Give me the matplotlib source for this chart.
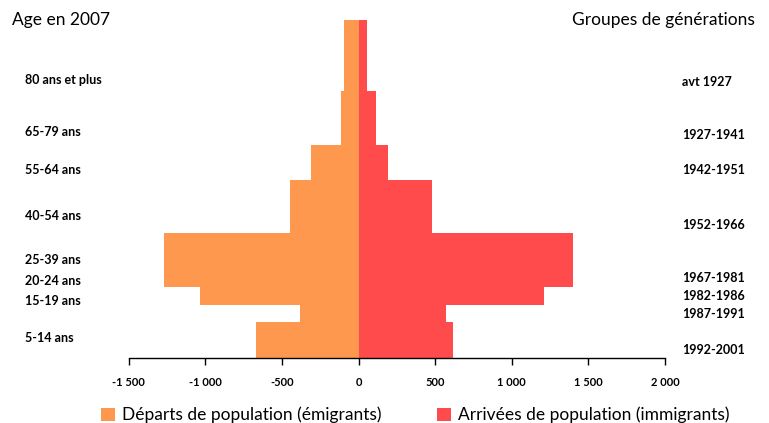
import matplotlib.pyplot as plt
from matplotlib.transforms import blended_transform_factory

plt.rcParams['font.family'] = ['Lato', 'DejaVu Sans']

# age bins (age in 2007), bottom to top
age_start = [5, 15, 20, 25, 40, 55, 65, 80]
age_end = [15, 20, 25, 40, 55, 65, 80, 100]
departs = [-672, -385, -1037, -1274, -450, -313, -117, -98]
arrivees = [618, 567, 1211, 1400, 481, 194, 111, 52]

age_labels = ["5-14 ans", "15-19 ans", "20-24 ans", "25-39 ans",
              "40-54 ans", "55-64 ans", "65-79 ans", "80 ans et plus"]
age_label_y = [10.6, 21, 26.6, 32.5, 44.9, 57.8, 68.5, 83.1]
gen_labels = ["1992-2001", "1987-1991", "1982-1986", "1967-1981",
              "1952-1966", "1942-1951", "1927-1941", "avt 1927"]
gen_label_y = [7.2, 17.4, 22.4, 27.5, 42.4, 57.8, 67.7, 82.6]

xticks = [-1500, -1000, -500, 0, 500, 1000, 1500, 2000]

orange = "#FF984F"
red = "#FF4B4C"

fig = plt.figure(figsize=(7.69, 4.23), dpi=100)
ax = fig.add_axes([0.1676, 0.1537, 0.6972, 0.799])

heights = [e - s for s, e in zip(age_start, age_end)]
ax.barh(age_start, departs, height=heights, align="edge", color=orange,
        label="Départs de population (émigrants)")
ax.barh(age_start, arrivees, height=heights, align="edge", color=red,
        label="Arrivées de population (immigrants)")

ax.set_xlim(-1500, 2000)
ax.set_ylim(5, 100)
ax.set_xticks(xticks)
ax.set_xticklabels([f"{v:,}".replace(",", "\u00a0") for v in xticks],
                   fontsize=8, fontweight="bold")
ax.tick_params(axis="x", direction="out", length=5, width=1, pad=9)
ax.set_yticks([])
for s in ["top", "left", "right"]:
    ax.spines[s].set_visible(False)
ax.spines["bottom"].set_linewidth(1)

tr = blended_transform_factory(ax.transAxes, ax.transData)
for lab, y in zip(age_labels, age_label_y):
    ax.text(-0.194, y, lab, transform=tr, ha="left", va="center",
            fontsize=9, fontweight="bold")
for lab, y in zip(gen_labels, gen_label_y):
    ax.text(1.032, y, lab, transform=tr, ha="left", va="center",
            fontsize=9, fontweight="bold")

fig.text(0.016, 0.952, "Age en 2007", fontsize=12.5, va="center", ha="left")
fig.text(0.982, 0.952, "Groupes de générations", fontsize=12.5, va="center", ha="right")

fig.legend(loc="lower center", bbox_to_anchor=(0.54, -0.038), ncol=2, frameon=False,
           fontsize=12.5, handlelength=0.8, handleheight=0.8, columnspacing=3.2,
           handletextpad=0.4)

fig.savefig("out.png", dpi=100)
